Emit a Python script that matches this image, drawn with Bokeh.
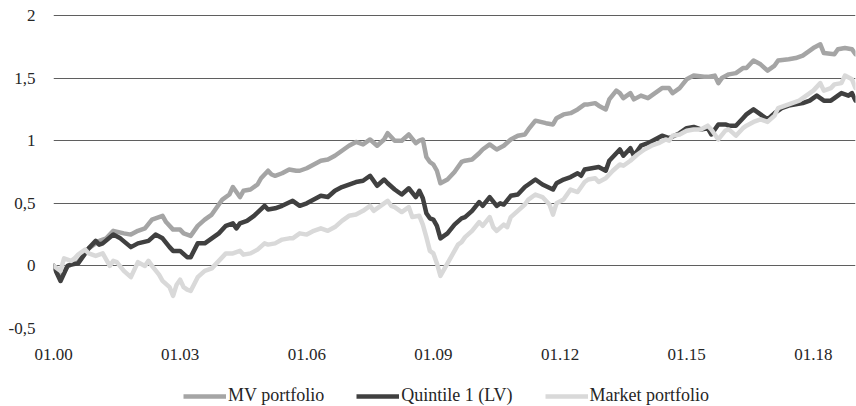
from bokeh.plotting import figure
from bokeh.models import FixedTicker, Legend, LegendItem, Range1d
from bokeh.layouts import column
from bokeh.embed import file_html
from bokeh.resources import INLINE

# month index: 0 = January 2000
tick_months = [0, 36, 72, 108, 144, 180, 216]
tick_labels = ["01.00", "01.03", "01.06", "01.09", "01.12", "01.15", "01.18"]
y_ticks = [-0.5, 0, 0.5, 1, 1.5, 2]
y_labels = ["-0,5", "0", "0,5", "1", "1,5", "2"]

series_names = ["MV portfolio", "Quintile 1 (LV)", "Market portfolio"]
series_colors = ["#a5a5a5", "#404040", "#d9d9d9"]

mv_month = [0, 2, 4, 7, 10, 13, 15, 17, 20, 22, 24, 26, 28, 30, 31, 32, 34, 36, 37, 38, 39,
            41, 43, 45, 47, 48, 50, 51, 53, 54, 56, 58, 59, 61, 62, 63, 65, 67, 69, 70, 72,
            74, 76, 78, 80, 82, 84, 86, 88, 90, 92, 94, 95, 97, 99, 101, 103, 104, 105, 106,
            107, 108, 109, 110, 112, 114, 116, 117, 119, 121, 122, 124, 126, 128, 130, 132,
            134, 135, 137, 140, 142, 143, 145, 147, 149, 151, 152, 154, 155, 157, 158, 160,
            161, 162, 164, 165, 167, 169, 171, 173, 175, 176, 178, 180, 182, 185, 186, 188,
            189, 190, 192, 194, 196, 197, 199, 201, 203, 205, 206, 209, 211, 213, 215, 216,
            218, 219, 222, 223, 225, 227, 228]
mv_value = [0.0, -0.1, 0.0, 0.03, 0.14, 0.2, 0.22, 0.28, 0.26, 0.25, 0.28, 0.3, 0.37, 0.39,
            0.4, 0.35, 0.29, 0.29, 0.26, 0.25, 0.24, 0.32, 0.37, 0.41, 0.49, 0.53, 0.57, 0.63,
            0.55, 0.6, 0.61, 0.65, 0.7, 0.76, 0.73, 0.72, 0.74, 0.77, 0.76, 0.76, 0.78, 0.81,
            0.84, 0.85, 0.88, 0.92, 0.96, 0.99, 0.97, 1.01, 0.96, 1.01, 1.06, 1.0, 1.0, 1.05,
            0.98, 1.0, 1.01, 0.87, 0.83, 0.81, 0.76, 0.66, 0.69, 0.75, 0.83, 0.84, 0.85, 0.9,
            0.93, 0.97, 0.93, 0.96, 1.01, 1.04, 1.05, 1.09, 1.16, 1.14, 1.13, 1.18, 1.21, 1.22,
            1.25, 1.29, 1.29, 1.3, 1.28, 1.25, 1.33, 1.4, 1.38, 1.34, 1.38, 1.33, 1.36, 1.34,
            1.38, 1.42, 1.42, 1.38, 1.42, 1.49, 1.52, 1.51, 1.51, 1.52, 1.46, 1.5, 1.53, 1.54,
            1.58, 1.58, 1.64, 1.61, 1.56, 1.6, 1.64, 1.65, 1.66, 1.68, 1.72, 1.74, 1.77, 1.7,
            1.69, 1.73, 1.74, 1.73, 1.69]

q1_month = [0, 2, 4, 5, 7, 9, 10, 12, 13, 14, 17, 19, 22, 24, 27, 29, 31, 33, 34, 36, 38, 39,
            41, 43, 45, 47, 49, 51, 52, 53, 55, 57, 60, 61, 63, 65, 68, 69, 70, 72, 74, 76,
            78, 80, 82, 84, 86, 88, 90, 92, 94, 95, 97, 99, 101, 103, 104, 105, 106, 107, 108,
            109, 110, 112, 114, 116, 117, 119, 121, 122, 124, 126, 127, 128, 130, 132, 134,
            135, 137, 139, 142, 143, 145, 147, 149, 150, 151, 153, 155, 157, 158, 160, 161,
            162, 164, 165, 167, 169, 171, 173, 175, 178, 180, 182, 184, 186, 187, 189, 191,
            192, 194, 196, 197, 199, 201, 203, 205, 207, 209, 211, 213, 215, 217, 219, 221,
            222, 224, 226, 227, 228]
q1_value = [0.0, -0.12, 0.0, 0.01, 0.02, 0.1, 0.14, 0.2, 0.17, 0.18, 0.25, 0.22, 0.15, 0.18,
            0.2, 0.25, 0.22, 0.15, 0.12, 0.12, 0.07, 0.07, 0.18, 0.18, 0.22, 0.26, 0.32, 0.34,
            0.3, 0.34, 0.36, 0.4, 0.48, 0.45, 0.46, 0.48, 0.52, 0.5, 0.48, 0.5, 0.53, 0.56,
            0.55, 0.6, 0.63, 0.65, 0.67, 0.68, 0.72, 0.64, 0.69, 0.66, 0.61, 0.57, 0.62, 0.55,
            0.6, 0.54, 0.42, 0.38, 0.37, 0.32, 0.22, 0.26, 0.33, 0.38, 0.39, 0.44, 0.51, 0.48,
            0.55, 0.48, 0.5, 0.49, 0.56, 0.57, 0.63, 0.65, 0.69, 0.65, 0.61, 0.66, 0.69, 0.71,
            0.74, 0.72, 0.77, 0.78, 0.79, 0.76, 0.84, 0.9, 0.93, 0.88, 0.94, 0.88, 0.96, 0.98,
            1.01, 1.04, 1.02, 1.06, 1.1, 1.11, 1.09, 1.1, 1.05, 1.13, 1.13, 1.12, 1.12, 1.18,
            1.21, 1.25, 1.21, 1.17, 1.22, 1.26, 1.28, 1.29, 1.3, 1.32, 1.36, 1.32, 1.32, 1.34,
            1.38, 1.36, 1.38, 1.32]

mkt_month = [0, 2, 3, 5, 6, 7, 9, 10, 12, 14, 16, 17, 18, 20, 22, 23, 24, 26, 27, 28, 30, 31,
             33, 34, 35, 36, 37, 38, 39, 41, 43, 45, 47, 49, 51, 53, 54, 56, 58, 60, 61, 63,
             65, 67, 68, 70, 72, 74, 76, 78, 80, 82, 84, 86, 88, 90, 91, 93, 95, 96, 97, 99,
             101, 102, 104, 105, 106, 107, 108, 109, 110, 112, 114, 115, 116, 117, 119, 121,
             122, 124, 125, 126, 128, 129, 130, 132, 134, 135, 137, 139, 141, 142, 143, 145,
             147, 149, 151, 152, 154, 155, 157, 159, 161, 162, 164, 166, 168, 170, 172, 174,
             175, 176, 178, 180, 182, 184, 186, 187, 188, 189, 191, 192, 194, 196, 197, 199,
             201, 203, 205, 206, 208, 210, 212, 214, 216, 218, 219, 221, 222, 224, 225, 227,
             228]
mkt_value = [0.0, -0.04, 0.06, 0.04, 0.06, 0.09, 0.13, 0.1, 0.08, 0.1, 0.0, 0.04, 0.03, -0.04,
             -0.09, -0.03, 0.03, 0.0, 0.04, 0.0, -0.07, -0.12, -0.17, -0.24, -0.15, -0.11,
             -0.17, -0.19, -0.2, -0.09, -0.04, -0.02, 0.04, 0.1, 0.1, 0.12, 0.09, 0.1, 0.13,
             0.18, 0.17, 0.18, 0.21, 0.22, 0.22, 0.26, 0.25, 0.28, 0.3, 0.28, 0.31, 0.36, 0.4,
             0.41, 0.44, 0.48, 0.44, 0.48, 0.52, 0.48, 0.47, 0.43, 0.47, 0.39, 0.4, 0.33, 0.23,
             0.12, 0.1, 0.02, -0.08, 0.02, 0.12, 0.17, 0.19, 0.23, 0.28, 0.35, 0.32, 0.39, 0.31,
             0.28, 0.33, 0.31, 0.39, 0.44, 0.49, 0.53, 0.57, 0.55, 0.49, 0.41, 0.5, 0.53, 0.61,
             0.59, 0.67, 0.69, 0.7, 0.67, 0.7, 0.76, 0.81, 0.8, 0.84, 0.89, 0.93, 0.96, 0.98,
             1.01, 1.0, 1.04, 1.05, 1.08, 1.09, 1.09, 1.12, 1.09, 1.05, 1.01, 1.08, 1.09, 1.04,
             1.1, 1.12, 1.15, 1.17, 1.15, 1.2, 1.26, 1.28, 1.3, 1.32, 1.36, 1.4, 1.46, 1.4,
             1.42, 1.45, 1.46, 1.52, 1.49, 1.42]

series = [(mv_month, mv_value), (q1_month, q1_value), (mkt_month, mkt_value)]

FONT = "Liberation Serif"
TEXT_COLOR = "#262626"
GRID_COLOR = "#5f5f5f"
LINE_W = 4.5

# ---- main chart ----
p = figure(width=856, height=380, output_backend="svg", toolbar_location=None,
           x_range=(0, 228), y_range=(-0.5, 2.008),
           min_border_left=53, min_border_right=1, min_border_top=14, min_border_bottom=52)
p.outline_line_color = None
p.background_fill_color = "white"
p.border_fill_color = "white"

p.xgrid.grid_line_color = None
p.ygrid.grid_line_color = GRID_COLOR
p.ygrid.grid_line_width = 1
p.ygrid.ticker = FixedTicker(ticks=y_ticks)

p.xaxis.ticker = FixedTicker(ticks=tick_months)
p.xaxis.major_label_overrides = {m: lab for m, lab in zip(tick_months, tick_labels)}
p.yaxis.ticker = FixedTicker(ticks=y_ticks)
p.yaxis.major_label_overrides = {v: lab for v, lab in zip(y_ticks, y_labels)}

for ax in (p.xaxis[0], p.yaxis[0]):
    ax.axis_line_color = None
    ax.major_tick_line_color = None
    ax.minor_tick_line_color = None
    ax.major_tick_in = 0
    ax.major_tick_out = 0
    ax.minor_tick_in = 0
    ax.minor_tick_out = 0
    ax.major_label_text_font = FONT
    ax.major_label_text_font_size = "17px"
    ax.major_label_text_color = TEXT_COLOR
p.xaxis.major_label_standoff = 20
p.yaxis.major_label_standoff = 18

for (months, vals), color in zip(series, series_colors):
    p.line(months, vals, line_color=color, line_width=LINE_W, line_join="round",
           line_cap="round")

# ---- legend strip below the chart (its series lie outside its visible range) ----
lg = figure(width=856, height=26, output_backend="svg", toolbar_location=None,
            x_range=Range1d(0, 228), y_range=Range1d(10, 11),
            x_axis_type=None, y_axis_type=None,
            min_border_left=0, min_border_right=0, min_border_top=0, min_border_bottom=0)
lg.outline_line_color = None
lg.xgrid.grid_line_color = None
lg.ygrid.grid_line_color = None
lg.background_fill_color = "white"
lg.border_fill_color = "white"

swatches = [lg.line(months, vals, line_color=c, line_width=LINE_W)
            for (months, vals), c in zip(series, series_colors)]
legend = Legend(items=[LegendItem(label=n, renderers=[r]) for n, r in zip(series_names, swatches)],
                orientation="horizontal", location=(130, 0),
                glyph_width=43, glyph_height=20, label_standoff=2, spacing=32,
                padding=0, margin=0, border_line_color=None, background_fill_alpha=0,
                label_text_font=FONT, label_text_font_size="18px",
                label_text_color=TEXT_COLOR)
lg.add_layout(legend, "center")

open("out.html", "w").write(file_html(column(p, lg, spacing=0), INLINE))
